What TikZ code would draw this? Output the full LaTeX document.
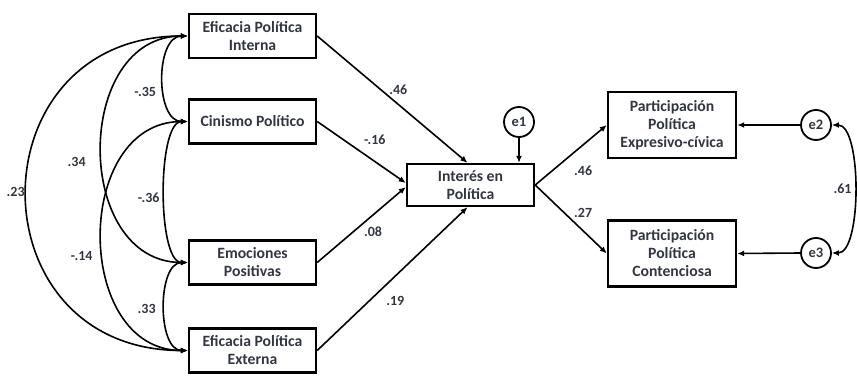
\documentclass[tikz,border=0pt]{standalone}
\usepackage{fontspec}
\setmainfont{Carlito}
\usetikzlibrary{arrows.meta, positioning}
\definecolor{ink}{RGB}{50,54,64}

\tikzset{
	varbox/.style={draw, line width=2.4pt, minimum width=127pt, minimum height=44pt, align=center, inner sep=2pt, text=ink, font=\bfseries\fontsize{15.7}{18}\selectfont},
	errc/.style={draw, circle, line width=1.8pt, minimum size=30pt, inner sep=0pt, text=ink, font=\bfseries\fontsize{14.5}{16}\selectfont},
	regr/.style={line width=1.6pt, -{Latex[length=7pt,width=6pt]}},
	cov/.style={line width=1.6pt, {Latex[length=7pt,width=6pt]}-{Latex[length=7pt,width=6pt]}},
	coef/.style={inner sep=0pt, text=ink, font=\bfseries\fontsize{14}{16}\selectfont}
}

\begin{document}
\begin{tikzpicture}[x=1pt, y=-1pt]
	\useasboundingbox (0,0) rectangle (857,375);
	
	% exogenous variables
	\node [varbox] (epi) at (252.5,36) {Eficacia Política\\ Interna};
	\node [varbox] (cin) at (252.5,121.5) {Cinismo Político};
	\node [varbox] (emo) at (252.5,262.5) {Emociones\\ Positivas};
	\node [varbox] (epe) at (252.5,350.5) {Eficacia Política\\ Externa};
	
	% mediator and outcomes
	\node [varbox, minimum height=42pt] (int) at (470.5,185) {Interés en\\ Política};
	\node [varbox, minimum width=128pt, minimum height=66pt] (ppe) at (672,125) {Participación\\ Política\\ Expresivo-cívica};
	\node [varbox, minimum width=128pt, minimum height=66pt] (ppc) at (672,253.5) {Participación\\ Política\\ Contenciosa};
	
	\node [errc] (e1) at (519,122) {e1};
	\node [errc] (e2) at (816,125) {e2};
	\node [errc] (e3) at (816,253) {e3};
	
	% paths
	\draw [regr] (epi.east) -- ([xshift=-3]int.north) node [coef, pos=0.54, yshift=15] (p1) {.46};
	\draw [regr] (cin.east) -- ([yshift=2]int.west) node [coef, pos=0.65, yshift=22] (p2) {-.16};
	\draw [regr] (emo.east) -- ([yshift=-2]int.west) node [coef, pos=0.63, yshift=-17] (p3) {.08};
	\draw [regr] (epe.east) -- ([xshift=-3]int.south) node [coef, pos=0.52, yshift=-25] (p4) {.19};
	\draw [regr] (int.east) -- (ppe.west) node [coef, pos=0.67, yshift=-26] (p5) {.46};
	\draw [regr] (int.east) -- (ppc.west) node [coef, pos=0.67, yshift=18] (p6) {.27};
	
	\draw [regr] (e1.south) -- (e1.south |- int.north);
	\draw [regr] (e2.west) -- (ppe.east);
	\draw [regr] (e3.west) -- (ppc.east);
	
	% covariances
	\draw [cov] (epi.west) .. controls (155,36) and (155,121.5) .. (cin.west) node [coef, pos=0.5, xshift=-18, yshift=-13] (c1) {-.35};
	\draw [cov] (epi.west) .. controls (73,36) and (73,262.5) .. (emo.west) node [coef, pos=0.5, xshift=-25, yshift=-13] (c2) {.34};
	\draw [cov] (epi.west) .. controls (-27,36) and (-27,350.5) .. (epe.west) node [coef, pos=0.5, xshift=-11, yshift=1] (c3) {.23};
	\draw [cov] (cin.west) .. controls (157,121.5) and (157,262.5) .. (emo.west) node [coef, pos=0.5, xshift=-16, yshift=-6] (c4) {-.36};
	\draw [cov] (cin.west) .. controls (73,121.5) and (73,350.5) .. (epe.west) node [coef, pos=0.5, xshift=-20, yshift=-20] (c5) {-.14};
	\draw [cov] (emo.west) .. controls (157,262.5) and (157,350.5) .. (epe.west) node [coef, pos=0.5, xshift=-18, yshift=-2] (c6) {.33};
	
	\draw [cov] (e2.east) .. controls (862,125) and (862,253) .. (e3.east) node [coef, pos=0.5, xshift=-12] (c7) {.61};
	
\end{tikzpicture}
\end{document}
